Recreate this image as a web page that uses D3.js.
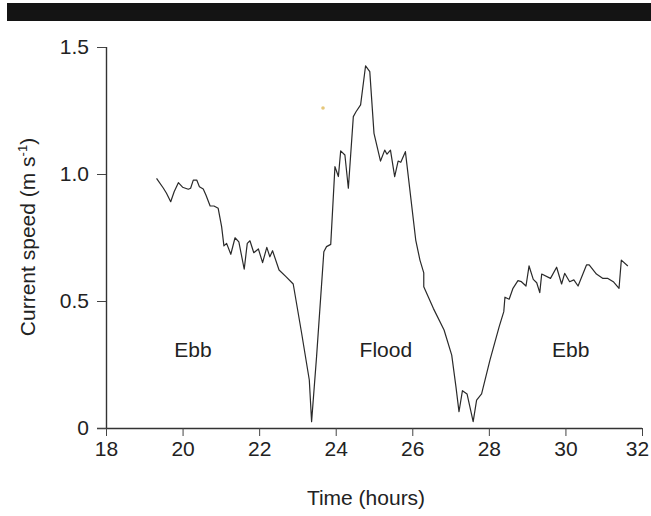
<!DOCTYPE html>
<html><head><meta charset="utf-8">
<script src="https://cdn.jsdelivr.net/npm/d3@7"></script>
<style>body{margin:0;background:#fff;} text{font-family:"Liberation Sans",Arial,sans-serif;fill:#222;}</style>
</head><body>
<script>
const times = [19.32,19.50,19.58,19.69,19.78,19.89,20.00,20.15,20.21,20.28,20.37,20.44,20.54,20.61,20.72,20.82,20.93,21.02,21.08,21.15,21.26,21.37,21.47,21.61,21.69,21.76,21.86,21.98,22.09,22.20,22.28,22.35,22.52,22.70,22.89,23.11,23.31,23.37,23.50,23.69,23.76,23.87,23.98,24.07,24.13,24.24,24.33,24.46,24.53,24.65,24.78,24.89,25.00,25.17,25.28,25.34,25.43,25.54,25.63,25.70,25.82,26.09,26.20,26.30,26.30,26.55,26.83,27.03,27.14,27.22,27.31,27.43,27.59,27.68,27.81,28.03,28.27,28.39,28.42,28.53,28.63,28.76,28.85,28.97,29.05,29.16,29.25,29.33,29.38,29.61,29.77,29.90,29.98,30.11,30.22,30.33,30.55,30.62,30.81,30.98,31.11,31.25,31.40,31.46,31.63];
const speeds = [0.983,0.944,0.924,0.891,0.930,0.966,0.948,0.940,0.944,0.976,0.976,0.950,0.941,0.917,0.874,0.874,0.865,0.793,0.717,0.727,0.684,0.749,0.733,0.625,0.727,0.737,0.690,0.705,0.651,0.711,0.674,0.698,0.622,0.596,0.567,0.373,0.189,0.025,0.281,0.694,0.714,0.723,1.029,0.990,1.091,1.075,0.944,1.226,1.245,1.272,1.426,1.403,1.160,1.051,1.094,1.078,1.094,0.990,1.051,1.046,1.088,0.740,0.661,0.611,0.556,0.471,0.386,0.287,0.163,0.064,0.147,0.134,0.025,0.110,0.134,0.268,0.399,0.458,0.515,0.507,0.550,0.580,0.576,0.559,0.638,0.585,0.572,0.533,0.606,0.589,0.633,0.567,0.609,0.576,0.583,0.559,0.642,0.642,0.606,0.589,0.589,0.576,0.550,0.661,0.638];
const xTicks = [18,20,22,24,26,28,30,32];
const yTicks = [0,0.5,1.0,1.5];
const yTickLabels = ["0","0.5","1.0","1.5"];
const phaseLabels = ["Ebb","Flood","Ebb"];
const phaseTimes = [20.27,25.31,30.14];
const phaseSpeed = 0.28;

const W=651,H=516;
const svg=d3.select("body").append("svg").attr("width",W).attr("height",H);
const x=d3.scaleLinear().domain([18,32]).range([106,642]);
const y=d3.scaleLinear().domain([0,1.5]).range([428,47]);

// top black bar
svg.append("rect").attr("x",7).attr("y",3).attr("width",W-7).attr("height",18).attr("fill","#141414");

const xAxis=svg.append("g").attr("transform","translate(0,428)")
  .call(d3.axisBottom(x).tickValues(xTicks).tickSize(8).tickPadding(5).tickFormat(d3.format("d")));
const yAxis=svg.append("g").attr("transform","translate(106,0)")
  .call(d3.axisLeft(y).tickValues(yTicks).tickSize(9).tickPadding(8).tickFormat((d,i)=>yTickLabels[i]));
[xAxis,yAxis].forEach(g=>{
  g.select(".domain").attr("stroke","#333").attr("stroke-width",1.4);
  g.selectAll(".tick line").attr("stroke","#444").attr("stroke-width",1);
  g.selectAll(".tick text").style("font-size","21px").attr("fill","#222");
});
xAxis.selectAll(".tick text").filter(d=>d===32).attr("dx",-5);
xAxis.select(".domain").attr("d","M97,0.5H642");
yAxis.select(".domain").attr("d","M0.5,428V47");

const line=d3.line().x((d,i)=>x(times[i])).y(d=>y(d));
svg.append("path").datum(speeds).attr("d",line).attr("fill","none")
  .attr("stroke","#2a2a2a").attr("stroke-width",1.2).attr("stroke-linejoin","round");

phaseLabels.forEach((t,i)=>{
  svg.append("text").attr("x",x(phaseTimes[i])).attr("y",y(phaseSpeed)).attr("text-anchor","middle")
    .style("font-size","21px").text(t);
});

// small speck from the scan
svg.append("circle").attr("cx",323).attr("cy",108).attr("r",1.8).attr("fill","#e6c77a");

svg.append("text").attr("x",366).attr("y",505).attr("text-anchor","middle").style("font-size","21px").text("Time (hours)");
const yl=svg.append("text").attr("transform","translate(35,237) rotate(-90)").attr("text-anchor","middle").style("font-size","21px");
yl.append("tspan").text("Current speed (m s");
yl.append("tspan").attr("dy",-8).style("font-size","13px").text("-1");
yl.append("tspan").attr("dy",8).text(")");
</script>
</body></html>
